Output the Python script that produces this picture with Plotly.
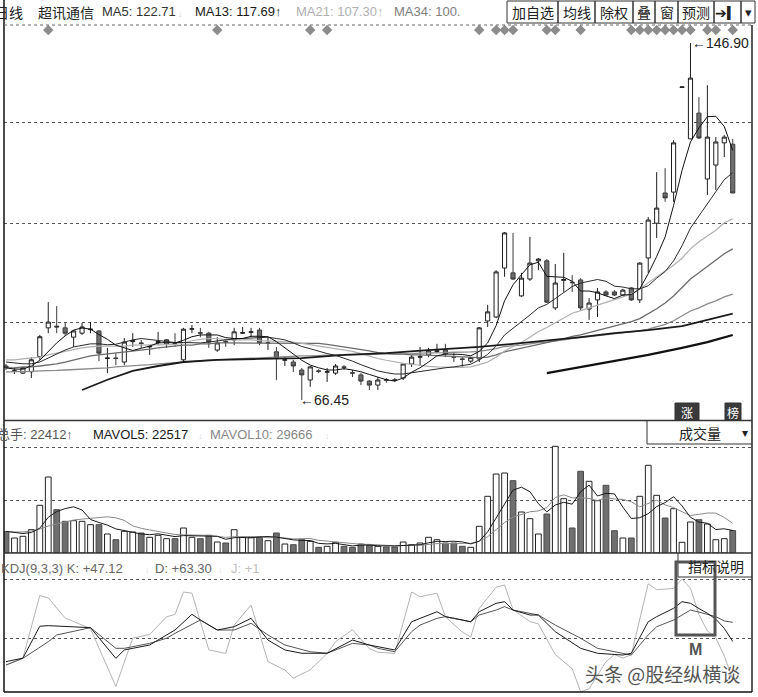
import plotly.graph_objects as go

W, H = 758, 697
def px(x): return x / W
def py(y): return 1 - y / H

# ---------------- data ----------------
idx = list(range(87))
open_ = [74.1, 72.9, 72.5, 72.8, 76.2, 82.7, 83.1, 82.7, 80.6, 81.5,
         82.3, 82.0, 75.8, 75.9, 75.0, 79.6, 79.3, 78.4, 79.4, 79.1,
         79.3, 75.5, 82.4, 81.6, 81.5, 77.7, 79.6, 80.0, 81.5, 81.7,
         82.2, 79.2, 77.3, 75.4, 75.0, 73.2, 70.95, 73.0, 72.7, 72.5,
         73.9, 72.6, 72.1, 70.7, 69.8, 71.0, 71.0, 71.4, 74.55, 76.1,
         76.6, 77.4, 77.7, 76.2, 75.7, 75.2, 75.7, 84.25, 85.15, 96.2,
         95.1, 89.9, 93.7, 97.8, 97.8, 87.2, 93.4, 93.0, 93.5, 86.95,
         89.0, 90.8, 90.8, 90.1, 91.7, 89.0, 98.45, 106.3, 113.1, 113.3,
         136.9, 125.3, 131.1, 116.25, 119.4, 124.4, 124.1]
high = [74.6, 73.7, 73.9, 76.1, 81.1, 88.5, 87.6, 83.8, 82.2, 83.8,
        84.0, 82.2, 78.2, 77.0, 80.4, 81.5, 80.0, 78.8, 81.8, 80.2,
        81.5, 82.7, 83.35, 82.7, 81.8, 80.6, 80.2, 82.7, 82.9, 82.7,
        82.7, 80.6, 78.4, 76.1, 75.5, 73.65, 74.1, 73.4, 73.65, 74.55,
        74.3, 73.2, 72.5, 70.95, 71.6, 71.4, 71.4, 74.8, 76.6, 78.4,
        78.2, 79.1, 79.1, 77.0, 76.1, 76.1, 82.9, 87.9, 95.7, 104.3,
        104.1, 95.1, 103.2, 98.45, 98.2, 97.1, 99.6, 94.6, 93.9, 89.4,
        91.7, 91.2, 91.2, 91.5, 91.9, 97.5, 107.7, 117.8, 118.7, 125.0,
        137.0, 146.9, 134.7, 137.4, 125.7, 126.2, 125.3]
low = [73.2, 72.3, 72.3, 71.4, 75.5, 81.5, 81.5, 80.9, 78.4, 81.1,
       81.5, 75.2, 72.5, 74.3, 74.3, 78.4, 78.2, 76.6, 78.8, 78.2,
       78.4, 75.2, 81.5, 80.6, 78.2, 77.3, 78.4, 78.8, 81.3, 80.6,
       78.8, 77.7, 70.9, 74.1, 72.75, 66.45, 69.4, 72.5, 70.5, 72.1,
       73.2, 71.6, 69.8, 68.7, 68.7, 70.3, 70.5, 70.95, 73.9, 74.3,
       76.1, 77.0, 76.1, 75.0, 73.9, 74.8, 75.0, 82.9, 84.9, 94.2,
       93.5, 89.7, 93.3, 95.7, 88.3, 86.7, 90.8, 90.8, 86.7, 84.5,
       85.15, 89.9, 89.9, 89.9, 88.8, 88.3, 95.1, 102.95, 111.1, 111.1,
       136.9, 125.3, 125.3, 112.65, 113.8, 121.2, 113.1]
close = [73.7, 73.0, 73.7, 75.5, 80.7, 84.0, 82.9, 81.5, 82.0, 82.9,
         82.4, 77.0, 75.9, 75.8, 79.5, 79.8, 79.2, 78.5, 79.6, 80.0,
         79.2, 82.4, 82.5, 81.5, 79.5, 79.3, 79.5, 81.8, 81.6, 81.8,
         79.3, 79.3, 75.9, 75.5, 74.1, 72.1, 73.9, 72.9, 72.8, 74.1,
         73.8, 72.5, 70.7, 69.8, 70.95, 70.9, 70.9, 74.55, 76.1, 76.2,
         77.5, 77.5, 76.8, 76.1, 75.6, 76.0, 82.7, 86.3, 95.3, 104.1,
         93.7, 93.9, 97.3, 98.2, 88.5, 92.8, 93.6, 92.9, 87.2, 88.3,
         90.8, 90.1, 90.1, 91.2, 89.0, 97.3, 107.0, 109.7, 112.0, 124.4,
         137.0, 139.0, 125.5, 125.7, 124.6, 125.7, 113.1]

ma5 = [73.7, 73.4, 73.4, 74.1, 75.4, 77.4, 79.3, 80.9, 82.2, 82.7,
       82.4, 81.2, 80.1, 78.8, 78.2, 77.6, 78.1, 78.6, 79.3, 79.4,
       79.3, 79.9, 80.7, 81.1, 81.1, 81.1, 80.5, 80.3, 80.3, 80.8,
       80.8, 80.7, 79.6, 78.3, 76.8, 75.4, 74.3, 73.7, 73.2, 73.2,
       73.5, 73.2, 72.8, 72.2, 71.6, 71.0, 70.7, 71.4, 72.7, 73.7,
       75.0, 76.4, 76.8, 76.8, 76.7, 76.4, 77.4, 79.3, 83.2, 88.8,
       92.4, 94.7, 96.9, 97.5, 94.3, 94.2, 94.1, 93.2, 91.0, 91.0,
       90.6, 89.9, 89.3, 90.1, 90.2, 91.5, 94.9, 98.8, 103.2, 110.3,
       118.2, 124.6, 127.8, 130.3, 130.4, 128.1, 122.71]
ma13 = [75.0, 74.8, 74.6, 74.6, 75.0, 75.9, 76.8, 77.7, 78.4, 78.8,
        79.1, 79.1, 78.9, 79.0, 79.5, 80.0, 80.3, 80.1, 79.8, 79.6,
        79.4, 79.4, 79.4, 79.3, 79.5, 79.8, 80.0, 80.2, 80.3, 80.5,
        80.6, 80.6, 80.3, 80.0, 79.3, 78.5, 78.0, 77.4, 76.9, 76.5,
        75.9, 75.2, 74.4, 73.7, 73.0, 72.6, 72.3, 72.3, 72.6, 72.8,
        73.2, 73.5, 73.7, 73.9, 74.2, 74.5, 75.5, 76.7, 78.6, 81.1,
        82.6, 84.0, 85.6, 87.2, 88.0, 89.3, 90.6, 92.0, 92.8, 93.2,
        93.6, 93.2, 92.1, 91.9, 91.5, 91.5, 92.2, 93.9, 95.4, 97.8,
        101.2, 105.2, 108.0, 110.7, 113.4, 116.1, 117.69]
ma21 = [75.5, 75.5, 75.7, 75.9, 76.1, 76.6, 77.0, 77.5, 77.9, 78.2,
        78.4, 78.6, 78.6, 78.6, 78.6, 78.8, 78.8, 78.8, 78.8, 78.8,
        78.9, 79.3, 79.8, 80.1, 80.3, 80.3, 80.0, 80.0, 80.0, 80.0,
        79.8, 79.7, 79.6, 79.6, 79.5, 79.2, 78.9, 78.6, 78.3, 78.1,
        77.8, 77.4, 76.9, 76.3, 75.8, 75.4, 75.0, 74.7, 74.5, 74.2,
        74.0, 73.9, 73.8, 73.8, 73.8, 73.9, 74.4, 75.0, 76.1, 77.5,
        78.5, 79.4, 80.6, 81.9, 82.8, 83.9, 84.9, 86.0, 86.6, 87.2,
        87.9, 88.5, 89.1, 89.7, 90.4, 91.4, 92.9, 94.2, 95.4, 96.8,
        98.4, 100.5, 102.1, 103.4, 104.7, 106.4, 107.30]
ma34 = [73.7, 73.7, 73.9, 73.9, 74.1, 74.3, 74.6, 75.0, 75.5, 75.9,
        76.4, 76.6, 76.8, 77.0, 77.3, 77.5, 77.7, 77.9, 78.2, 78.4,
        78.6, 78.8, 78.8, 79.1, 79.1, 79.3, 79.3, 79.3, 79.3, 79.3,
        79.3, 79.3, 79.3, 79.3, 79.3, 79.3, 79.3, 79.2, 79.0, 78.7,
        78.4, 78.2, 77.8, 77.5, 77.1, 76.9, 76.8, 76.8, 76.6, 76.6,
        76.5, 76.5, 76.4, 76.3, 76.2, 76.0, 76.0, 76.1, 76.6, 77.3,
        77.7, 78.1, 78.6, 79.0, 79.3, 79.7, 80.2, 80.8, 81.1, 81.6,
        82.1, 82.6, 83.1, 83.6, 84.1, 84.8, 85.9, 87.0, 88.3, 89.9,
        91.8, 93.7, 95.1, 96.6, 98.0, 99.4, 100.5]
ma55 = [72.8, 72.8, 72.9, 72.9, 73.0, 73.0, 73.1, 73.2, 73.3, 73.4,
        73.4, 73.6, 73.7, 73.9, 74.0, 74.1, 74.3, 74.4, 74.6, 74.7,
        74.8, 75.0, 75.1, 75.3, 75.4, 75.5, 75.6, 75.7, 75.8, 75.8,
        75.9, 76.0, 76.1, 76.2, 76.3, 76.4, 76.4, 76.5, 76.5, 76.6,
        76.6, 76.6, 76.7, 76.7, 76.8, 76.8, 76.8, 76.9, 76.9, 77.0,
        77.0, 77.1, 77.1, 77.2, 77.2, 77.3, 77.4, 77.7, 78.0, 78.5,
        78.6, 78.8, 79.1, 79.4, 79.5, 79.7, 80.0, 80.3, 80.5, 80.7,
        80.9, 81.1, 81.3, 81.5, 81.7, 82.0, 82.4, 82.9, 83.5, 84.3,
        85.4, 86.5, 87.2, 88.1, 88.8, 89.7, 90.3]
ma89_idx = [9, 12, 15, 18, 21, 25, 30, 35, 40, 45, 50, 56, 60, 65, 68, 72, 76, 80, 83, 86]
ma89 = [68.7, 71.0, 73.0, 74.1, 75.0, 75.5, 75.7, 75.9, 76.6, 77.0,
        77.7, 78.4, 79.1, 80.0, 80.6, 81.5, 82.2, 83.1, 84.5, 85.9]
ma144_idx = [64, 68, 72, 76, 80, 83, 86]
ma144 = [72.5, 73.9, 75.2, 76.6, 78.2, 79.5, 81.1]

signal_idx = [5, 25, 36, 38, 56, 58, 59, 60, 64, 65, 68,
              74, 75, 76, 77, 78, 79, 80, 81, 83, 84, 86]

volume = [21300, 15000, 16700, 23300, 47700, 76000, 43300, 31700, 32300, 31700,
          28300, 28300, 19000, 13300, 21700, 21000, 20000, 15700, 17700, 14300,
          14300, 25000, 15700, 14300, 17700, 11000, 10000, 23300, 15700, 15700,
          15700, 12300, 20000, 9000, 8300, 13300, 11700, 5700, 6700, 10700,
          6700, 5700, 9000, 7700, 6700, 6000, 6000, 11000, 8300, 10000,
          15700, 13300, 10000, 10000, 6700, 5700, 26700, 56700, 79000, 80000,
          72300, 41000, 34300, 19000, 39000, 106700, 54300, 25000, 81700, 71700,
          52300, 67700, 22300, 15000, 15000, 56700, 87700, 57700, 35000, 44300,
          10700, 31000, 33300, 29000, 13300, 14300, 22412]
mavol5 = [21700, 20500, 19500, 20500, 24800, 35700, 41400, 44400, 46200, 43000,
          33500, 30500, 27900, 24100, 22100, 20700, 19000, 18300, 19200, 17700,
          16400, 17400, 17400, 16700, 17400, 16700, 13700, 15300, 15500, 15100,
          16100, 16500, 15900, 14500, 13100, 12600, 12500, 9600, 9100, 9600,
          8300, 7100, 7800, 8000, 7200, 7000, 7100, 7500, 7600, 8300,
          10200, 11700, 11500, 11800, 11100, 9100, 11800, 21200, 35000, 49600,
          62900, 65800, 61300, 49300, 41100, 48000, 50700, 48800, 61300, 67900,
          57000, 59700, 59100, 45800, 34500, 35300, 39300, 46400, 50400, 56300,
          47100, 35700, 30900, 29700, 23500, 24200, 22517]
mavol10 = [21000, 21000, 21000, 22000, 24000, 27000, 29000, 31000, 33000, 33900,
           34600, 35900, 36200, 35200, 32600, 27100, 24700, 23100, 21700, 19900,
           18500, 18200, 17900, 18000, 17600, 16600, 15600, 16300, 16100, 16300,
           16400, 15100, 15600, 15000, 14100, 14300, 14500, 12700, 11800, 11300,
           10400, 9800, 8700, 8600, 8400, 7700, 7100, 7600, 7800, 7700,
           8600, 9400, 9500, 9700, 9700, 9700, 11700, 16300, 23400, 30400,
           36000, 38800, 41200, 42100, 45400, 55500, 58200, 55100, 55300, 54500,
           52500, 55200, 54000, 53600, 51200, 46200, 49500, 52800, 48100, 45400,
           41200, 37500, 38600, 40000, 39900, 35600, 29666]

k_idx = [0, 2, 4, 5, 10, 13, 14, 17, 19, 20, 22, 23, 25, 27, 29, 31, 33, 35, 38, 41,
         43, 44, 46, 48, 49, 51, 52, 54, 55, 56, 58, 59, 60, 62, 63, 65, 68, 70, 73, 74,
         76, 77, 79, 80, 81, 82, 83, 84, 85, 86]
k_val = [30.0, 33.0, 60.0, 60.5, 58.8, 32.8, 39.9, 44.1, 52.6, 56.8, 70.1, 65.3, 56.8, 59.6, 66.7, 48.3, 39.9, 37.1, 37.1, 48.3,
         44.1, 42.7, 39.9, 63.8, 66.7, 72.3, 68.1, 65.3, 63.8, 72.3, 79.4, 80.8, 73.7, 69.5, 69.5, 55.4, 41.3, 37.1, 35.6, 37.1,
         63.8, 68.1, 75.2, 80.8, 79.4, 75.0, 71.0, 66.0, 58.2, 47.12]
d_idx = [0, 2, 5, 6, 10, 13, 14, 17, 19, 20, 23, 25, 27, 29, 31, 33, 36, 38, 41, 43,
         44, 46, 48, 49, 51, 52, 54, 55, 56, 58, 59, 60, 62, 63, 65, 68, 70, 73, 74, 76,
         77, 79, 80, 81, 82, 84, 85, 86]
d_val = [27.2, 32.8, 46.9, 52.6, 58.8, 41.3, 41.3, 45.5, 49.8, 54.0, 65.3, 56.8, 56.8, 62.5, 52.6, 44.1, 38.4, 37.1, 45.5, 44.1,
         41.3, 38.4, 55.4, 61.0, 66.7, 68.1, 65.3, 63.8, 69.5, 73.7, 76.6, 73.7, 70.9, 69.5, 61.0, 49.8, 41.3, 37.1, 35.6, 52.6,
         59.6, 65.3, 69.5, 73.7, 72.0, 68.1, 64.5, 63.30]
j_idx = [0, 2, 4, 5, 7, 10, 13, 14, 15, 17, 19, 20, 21, 22, 23, 24, 26, 27, 29, 31,
         33, 34, 36, 38, 39, 41, 43, 44, 46, 48, 49, 51, 52, 54, 55, 56, 58, 59, 60, 62,
         63, 65, 67, 68, 69, 71, 72, 73, 74, 76, 77, 79, 80, 81, 82, 83, 84, 85, 86]
j_val = [27, 33, 86, 84, 67, 58, 9, 30, 50, 53, 68, 70, 89, 88, 64, 40, 37, 61, 78, 30,
         23, 16, 23, 37, 47, 57, 41, 38, 37, 89, 85, 88, 68, 55, 51, 75, 93, 95, 74, 64,
         62, 36, 24, 4.5, 7, 30, 36, 33, 36, 96, 91, 92, 100, 92, 70, 56, 50, 35, 14.8]

price_grid = [84.0, 106.3, 128.9]
vol_grid = [53000, 106000]
kdj_grid = [50, 100]

# ---------------- figure ----------------
FONT = "Liberation Sans, Arial, Noto Sans CJK SC, sans-serif"
CJK = "Noto Sans CJK SC, sans-serif"
up = [c >= o for o, c in zip(open_, close)]

fig = go.Figure()
fig.add_trace(go.Candlestick(
    x=idx, open=open_, high=high, low=low, close=close,
    increasing=dict(line=dict(color='#1e1e1e', width=1), fillcolor='white'),
    decreasing=dict(line=dict(color='#3a3a3a', width=1), fillcolor='#6f6f6f'),
    whiskerwidth=0, xaxis='x', yaxis='y', hoverinfo='skip'))

def line(x, y, color, width, ax='', dash=None):
    return go.Scatter(x=x, y=y, mode='lines', line=dict(color=color, width=width, dash=dash),
                      xaxis='x' + ax, yaxis='y' + ax, hoverinfo='skip')

fig.add_trace(line(idx, ma55, '#8a8a8a', 1.3))
fig.add_trace(line(idx, ma34, '#6a6a6a', 1.3))
fig.add_trace(line(idx, ma21, '#b0b0b0', 1.2))
fig.add_trace(line(ma89_idx, ma89, '#1a1a1a', 1.8))
fig.add_trace(line(ma144_idx, ma144, '#111111', 2.2))
fig.add_trace(line(idx, ma13, '#2a2a2a', 1))
fig.add_trace(line(idx, ma5, '#111111', 1))

sig_level = 149.84
fig.add_trace(go.Scatter(x=signal_idx, y=[sig_level] * len(signal_idx), mode='markers',
                         marker=dict(symbol='diamond', size=8, color='#8c8c8c'),
                         xaxis='x', yaxis='y', hoverinfo='skip'))

fig.add_trace(go.Bar(x=idx, y=volume, width=0.68,
                     marker=dict(color=['white' if u else '#6f6f6f' for u in up],
                                 line=dict(color=['#222' if u else '#4a4a4a' for u in up], width=1)),
                     xaxis='x2', yaxis='y2', hoverinfo='skip'))
fig.add_trace(line(idx, mavol10, '#8a8a8a', 1, '2'))
fig.add_trace(line(idx, mavol5, '#1a1a1a', 1, '2'))

fig.add_trace(line(j_idx, j_val, '#b4b4b4', 1, '3'))
fig.add_trace(line(d_idx, d_val, '#555555', 1, '3'))
fig.add_trace(line(k_idx, k_val, '#1a1a1a', 1, '3'))

xr = [-0.237, 88.28]
xdom = [px(4), px(752)]
common_x = dict(domain=xdom, range=xr, visible=False, fixedrange=True)
def yax(dom, rng, grid):
    return dict(domain=dom, range=rng, tickvals=grid, showticklabels=False, ticks='',
                showgrid=True, gridcolor='#555', gridwidth=1, griddash='dot',
                zeroline=False, showline=False, fixedrange=True)

fig.update_layout(
    width=W, height=H, margin=dict(l=0, r=0, t=0, b=0),
    paper_bgcolor='white', plot_bgcolor='white', showlegend=False,
    font=dict(family=FONT),
    xaxis=dict(common_x, anchor='y', rangeslider=dict(visible=False)),
    xaxis2=dict(common_x, anchor='y2', matches='x'),
    xaxis3=dict(common_x, anchor='y3', matches='x'),
    yaxis=yax([py(420), py(25)], [61.93, 150.97], price_grid),
    yaxis2=yax([py(553), py(421)], [0, 132000], vol_grid),
    yaxis3=yax([py(692), py(556)], [4.3, 119.5], kdj_grid),
    bargap=0,
)

shapes = []
def hl(y, x0, x1, color='#222', width=1, dash=None):
    shapes.append(dict(type='line', xref='paper', yref='paper', x0=px(x0), x1=px(x1),
                       y0=py(y), y1=py(y), line=dict(color=color, width=width, dash=dash)))
def vl(x, y0, y1, color='#222', width=1):
    shapes.append(dict(type='line', xref='paper', yref='paper', x0=px(x), x1=px(x),
                       y0=py(y0), y1=py(y1), line=dict(color=color, width=width)))
def rect(x0, y0, x1, y1, color='#222', width=1, fill=None):
    shapes.append(dict(type='rect', xref='paper', yref='paper', x0=px(x0), x1=px(x1),
                       y0=py(y1), y1=py(y0), line=dict(color=color, width=width),
                       fillcolor=fill if fill else 'rgba(0,0,0,0)'))

vl(4, 0, 692, '#111', 1.5)
vl(752, 25, 692, '#222', 1.5)
hl(25, 4, 752, '#666', 1, 'dot')
hl(420.5, 4, 752, '#333', 1.5)
hl(553, 4, 752, '#333', 1.5)
hl(692, 4, 752, '#111', 1.5)
btns = [(507, 558, '加自选'), (558, 595, '均线'), (595, 633, '除权'), (633, 655, '叠'),
        (655, 678, '窗'), (678, 714, '预测'), (714, 741, '➔▎'), (741, 755, '▾')]
for x0, x1, _ in btns:
    rect(x0, 1, x1, 23, '#333', 1)
vl(647, 421, 444, '#333', 1)
hl(444, 647, 752, '#333', 1)
vl(678, 553, 577, '#333', 1)
hl(577, 678, 752, '#333', 1)
rect(675, 403, 699, 420, '#333', 1, '#3a3a3a')
rect(725, 403, 741, 420, '#333', 1, '#3a3a3a')
rect(676, 562, 715, 635, '#555', 3)

ann = []
def txt(x, y, s, size=13, color='#222', anchor='left', family=FONT):
    ann.append(dict(x=px(x), y=py(y), xref='paper', yref='paper', text=s, showarrow=False,
                    xanchor=anchor, yanchor='middle', font=dict(size=size, color=color, family=family)))

txt(-7, 12, '日线', 14, '#222', family=CJK)
txt(36, 12, '超讯通信', 14, '#222', family=CJK)
txt(100, 12, 'MA5: 122.71', 13, '#333')
txt(176, 14, '↓', 9, '#cfcfcf')
txt(193, 12, 'MA13: 117.69↑', 13, '#1a1a1a')
txt(294, 12, 'MA21: 107.30↑', 13, '#b0b0b0')
txt(392, 12, 'MA34: 100.', 13, '#808080')
for x0, x1, s in btns:
    txt((x0 + x1) / 2, 12, s, 14 if len(s) > 1 or s in '叠窗' else 13, '#222', 'center', CJK)

txt(690, 43, '←146.90', 14, '#222')
txt(298, 400, '←66.45', 14, '#222')
txt(687, 412, '涨', 12, 'white', 'center', CJK)
txt(733, 412, '榜', 12, 'white', 'center', CJK)

txt(-5, 434, '总手: 22412↑', 13, '#555')
txt(91, 434, 'MAVOL5: 22517', 13, '#1a1a1a')
txt(196, 436, '↓', 9, '#cfcfcf')
txt(208, 434, 'MAVOL10: 29666', 13, '#888')
txt(323, 436, '↓', 9, '#dcdcdc')
txt(700, 433, '成交量', 14, '#222', 'center', CJK)
txt(745, 433, '▾', 12, '#222', 'center')

txt(-1, 568, 'KDJ(9,3,3) K: +47.12', 13, '#666')
txt(143, 570, '↓', 9, '#dcdcdc')
txt(153, 568, 'D: +63.30', 13, '#666')
txt(216, 570, '↓', 9, '#dcdcdc')
txt(229, 568, 'J: +1', 13, '#c0c0c0')
txt(716, 566, '指标说明', 14, '#222', 'center', CJK)

txt(695, 649, '<b>M</b>', 16, '#555', 'center')
txt(583, 673, '头条 @股经纵横谈', 19, '#555', 'left', CJK)

fig.update_layout(shapes=shapes, annotations=ann)
fig.write_html('out.html', config={'displayModeBar': False, 'staticPlot': True},
               post_script="document.body.style.margin='0';document.documentElement.style.overflow='hidden';document.body.style.overflow='hidden';")
